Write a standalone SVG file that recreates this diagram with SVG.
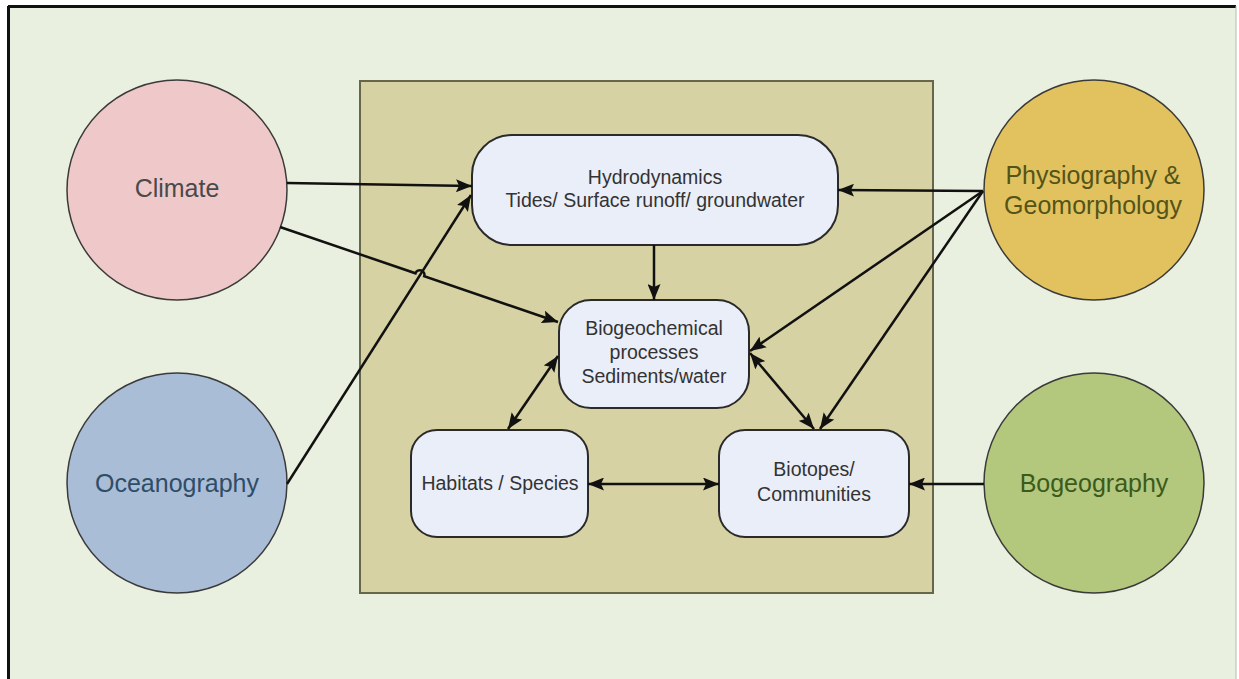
<svg xmlns="http://www.w3.org/2000/svg" width="1239" height="679" viewBox="0 0 1239 679">
<style>
.t{font-family:"Liberation Sans",Arial,sans-serif;text-anchor:middle}
.box{fill:#eaeef8;stroke:#2a2a2a;stroke-width:2}
.circ{stroke:#3a3a3a;stroke-width:1.5}
.bt{font-size:19.5px;fill:#333}
.ct{font-size:25px}
.con{fill:none;stroke:#111;stroke-width:2.5}
</style>
<defs>
<marker id="ah" markerUnits="userSpaceOnUse" markerWidth="17" markerHeight="13" refX="16" refY="6.5" orient="auto-start-reverse">
<path d="M0,0 L16,6.5 L0,13 L3,6.5 z" fill="#111"/>
</marker>
</defs>
<rect x="0" y="0" width="1239" height="679" fill="#ffffff"/>
<rect x="8" y="6" width="1228" height="673" fill="#eaf0df"/>
<line x1="8" y1="6.5" x2="1236" y2="6.5" stroke="#111" stroke-width="3"/>
<line x1="8.5" y1="6" x2="8.5" y2="679" stroke="#111" stroke-width="3"/>
<line x1="1236" y1="6" x2="1236" y2="679" stroke="#b8bcb0" stroke-width="1"/>
<rect id="frame" x="360" y="81" width="573" height="512" fill="#d6d2a3" stroke="#66664a" stroke-width="2"/>

<g id="climate">
<circle class="circ" cx="177" cy="190" r="110" fill="#efc9c9"/>
<text class="t ct" x="177" y="197" fill="#4a4a4a">Climate</text>
</g>
<g id="oceanography">
<circle class="circ" cx="177" cy="483" r="110" fill="#a9bdd7"/>
<text class="t ct" x="177" y="492" fill="#2f4d66">Oceanography</text>
</g>
<g id="physiography">
<circle class="circ" cx="1094" cy="190" r="110" fill="#e2c25f"/>
<text class="t ct" x="1093" y="184" fill="#545418">Physiography &amp;</text>
<text class="t ct" x="1093" y="214" fill="#545418">Geomorphology</text>
</g>
<g id="biogeography">
<circle class="circ" cx="1094" cy="483" r="110" fill="#b3c77d"/>
<text class="t ct" x="1094" y="492" fill="#3b5a1c">Bogeography</text>
</g>

<g id="hydrodynamics">
<rect class="box" x="472" y="135" width="366" height="110" rx="40"/>
<text class="t bt" x="655" y="184">Hydrodynamics</text>
<text class="t bt" x="655" y="207">Tides/ Surface runoff/ groundwater</text>
</g>
<g id="biogeochemical">
<rect class="box" x="559" y="300" width="190" height="108" rx="32"/>
<text class="t bt" x="654" y="335">Biogeochemical</text>
<text class="t bt" x="654" y="359">processes</text>
<text class="t bt" x="654" y="383">Sediments/water</text>
</g>
<g id="habitats">
<rect class="box" x="411" y="430" width="177" height="107" rx="26"/>
<text class="t bt" x="500" y="490">Habitats / Species</text>
</g>
<g id="biotopes">
<rect class="box" x="719" y="430" width="190" height="107" rx="26"/>
<text class="t bt" x="814" y="476">Biotopes/</text>
<text class="t bt" x="814" y="501">Communities</text>
</g>

<g id="connectors">
<path class="con" d="M287,183 L472,186" marker-end="url(#ah)"/>
<path class="con" d="M280,227 L415.5,273.3 A4.6,4.6 0 0 1 424.2,276.3 L558,322" marker-end="url(#ah)"/>
<path class="con" d="M287,484 L471,195" marker-end="url(#ah)"/>
<path class="con" d="M654,245 L654,300" marker-end="url(#ah)"/>
<path class="con" d="M983,191 L838,190" marker-end="url(#ah)"/>
<path class="con" d="M983,191 L750,351" marker-end="url(#ah)"/>
<path class="con" d="M983,191 L820,429" marker-end="url(#ah)"/>
<path class="con" d="M750,353 L814,429" marker-start="url(#ah)" marker-end="url(#ah)"/>
<path class="con" d="M558,356 L508,429" marker-start="url(#ah)" marker-end="url(#ah)"/>
<path class="con" d="M588,484 L719,484" marker-start="url(#ah)" marker-end="url(#ah)"/>
<path class="con" d="M984,484 L909,484" marker-end="url(#ah)"/>
</g>
</svg>
